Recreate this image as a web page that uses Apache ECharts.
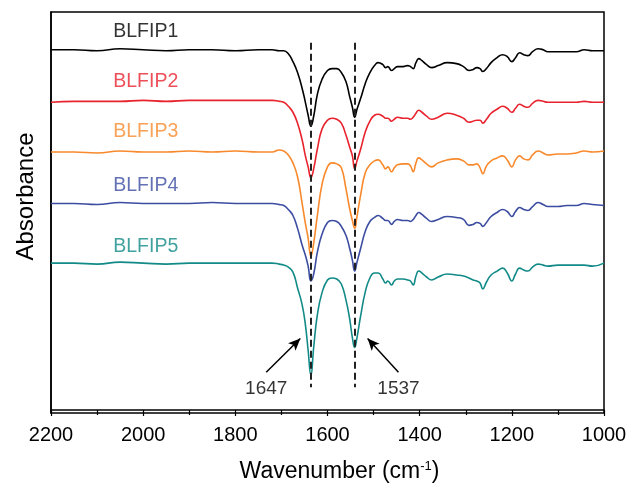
<!DOCTYPE html>
<html>
<head>
<meta charset="utf-8">
<script src="https://cdn.jsdelivr.net/npm/echarts@6/dist/echarts.min.js"></script>
<style>
  html, body { margin: 0; padding: 0; background: #fff; }
  #main { width: 643px; height: 488px; }
</style>
</head>
<body>
<div id="main"></div>
<script>
// wavenumbers (cm-1), shared by all spectra
var wavenumbers = [2200,2150,2100,2050,2000,1950,1900,1850,1800,1750,
  1720,1705,1695,1685,1675,1665,1655,1648,1642,1636,
  1630,1622,1612,1600,1590,1580,1570,1560,1552,1546,
  1541,1536,1528,1518,1508,1498,1490,1480,1474,1469,
  1461,1455,1448,1436,1426,1420,1414,1408,1402,1395,
  1385,1374,1360,1340,1320,1305,1293,1284,1276,1269,
  1263,1255,1245,1232,1220,1210,1200,1192,1183,1174,
  1165,1155,1143,1132,1122,1100,1080,1060,1043,1025,1000];

// absorbance (offset stacked, arbitrary units)
var blfip1 = [3.63,3.63,3.62,3.64,3.63,3.62,3.63,3.63,3.62,3.63,
  3.63,3.62,3.62,3.59,3.51,3.40,3.24,3.10,2.97,2.86,
  2.96,3.18,3.33,3.42,3.44,3.44,3.40,3.31,3.16,3.05,
  2.95,3.03,3.14,3.29,3.40,3.47,3.50,3.48,3.45,3.46,
  3.42,3.44,3.46,3.46,3.47,3.46,3.44,3.50,3.54,3.52,
  3.48,3.45,3.47,3.50,3.49,3.46,3.42,3.43,3.45,3.44,
  3.41,3.44,3.50,3.55,3.58,3.56,3.51,3.55,3.60,3.58,
  3.57,3.61,3.64,3.63,3.61,3.61,3.61,3.61,3.63,3.62,3.62];
var blfip2 = [3.10,3.11,3.11,3.11,3.12,3.11,3.12,3.12,3.12,3.12,
  3.12,3.11,3.10,3.06,3.00,2.89,2.72,2.56,2.45,2.34,
  2.43,2.63,2.83,2.92,2.94,2.93,2.89,2.77,2.65,2.56,
  2.43,2.51,2.63,2.80,2.91,2.97,2.98,2.96,2.94,2.94,
  2.91,2.93,2.95,2.94,2.94,2.93,2.95,2.99,3.02,3.00,
  2.96,2.93,2.95,2.99,2.97,2.94,2.90,2.91,2.92,2.92,
  2.89,2.93,2.99,3.03,3.06,3.04,3.00,3.04,3.08,3.06,
  3.05,3.09,3.12,3.11,3.10,3.10,3.10,3.10,3.11,3.10,3.10];
var blfip3 = [2.60,2.60,2.59,2.61,2.60,2.60,2.61,2.60,2.61,2.60,
  2.60,2.62,2.61,2.57,2.49,2.35,2.08,1.88,1.73,1.55,
  1.68,1.96,2.27,2.45,2.49,2.48,2.44,2.23,2.03,1.91,
  1.83,1.95,2.17,2.39,2.47,2.51,2.52,2.47,2.43,2.45,
  2.40,2.44,2.47,2.48,2.48,2.46,2.40,2.49,2.54,2.52,
  2.48,2.45,2.49,2.52,2.53,2.51,2.47,2.47,2.48,2.44,
  2.38,2.46,2.51,2.54,2.56,2.52,2.45,2.52,2.56,2.53,
  2.52,2.57,2.61,2.59,2.57,2.58,2.58,2.59,2.61,2.60,2.61];
var blfip4 = [2.08,2.08,2.07,2.09,2.08,2.08,2.08,2.09,2.08,2.08,
  2.08,2.07,2.06,2.02,1.96,1.83,1.66,1.56,1.45,1.30,
  1.37,1.59,1.77,1.89,1.91,1.90,1.85,1.76,1.63,1.51,
  1.40,1.49,1.63,1.80,1.90,1.94,1.96,1.93,1.91,1.91,
  1.87,1.90,1.92,1.91,1.91,1.90,1.92,1.96,1.99,1.97,
  1.93,1.90,1.92,1.95,1.94,1.92,1.86,1.87,1.89,1.88,
  1.85,1.89,1.95,1.99,2.02,2.00,1.95,2.00,2.04,2.02,
  2.01,2.05,2.09,2.07,2.05,2.05,2.06,2.06,2.08,2.07,2.06];
var blfip5 = [1.48,1.48,1.47,1.49,1.48,1.47,1.48,1.48,1.48,1.48,
  1.48,1.47,1.46,1.44,1.39,1.23,1.06,0.86,0.60,0.35,
  0.63,0.96,1.18,1.31,1.33,1.32,1.27,1.11,0.92,0.73,
  0.63,0.73,0.95,1.19,1.33,1.38,1.38,1.32,1.28,1.30,
  1.26,1.30,1.32,1.32,1.31,1.30,1.26,1.35,1.40,1.38,
  1.34,1.31,1.34,1.37,1.36,1.35,1.33,1.31,1.30,1.28,
  1.22,1.29,1.36,1.40,1.43,1.38,1.30,1.37,1.43,1.41,
  1.40,1.44,1.47,1.46,1.45,1.46,1.46,1.46,1.46,1.45,1.48];

var names = ['BLFIP1', 'BLFIP2', 'BLFIP3', 'BLFIP4', 'BLFIP5'];
var colors = ['#000000', '#e8232e', '#f8892c', '#3c4da1', '#128a87'];
var spectra = [blfip1, blfip2, blfip3, blfip4, blfip5];
// where the sample names sit (wavenumber, absorbance)
var nameX = [2065, 2065, 2065, 2065, 2065];
var nameY = [3.81, 3.31, 2.80, 2.26, 1.65];

// amide bands: dashed guides, arrows and their labels
var peakLines = [1636, 1541];
var peakLineTop = 3.70, peakLineBottom = 0.23;
var bandLabels = ['1647', '1537'];
var arrowTail = [[1733, 0.38], [1446, 0.38]];
var arrowTip = [[1659, 0.72], [1513, 0.72]];
var bandLabelPos = [[1733, 0.21], [1446, 0.21]];

var myChart = echarts.init(document.getElementById('main'));

var font = 'Arial, "Liberation Sans", sans-serif';
var series = [];
for (var i = 0; i < spectra.length; i++) {
  var pts = [];
  for (var j = 0; j < wavenumbers.length; j++) {
    pts.push([wavenumbers[j], spectra[i][j]]);
  }
  series.push({
    name: names[i],
    type: 'line',
    data: pts,
    smooth: 0.5,
    showSymbol: false,
    lineStyle: { color: colors[i], width: 1.6 },
    z: 3
  });
}

// dashed guides + arrows
var guides = [];
for (var k = 0; k < peakLines.length; k++) {
  guides.push([
    { coord: [peakLines[k], peakLineTop], symbol: 'none',
      lineStyle: { type: [7, 4], color: '#222', width: 2 } },
    { coord: [peakLines[k], peakLineBottom], symbol: 'none' }
  ]);
  guides.push([
    { coord: arrowTail[k], symbol: 'none',
      lineStyle: { type: 'solid', color: '#000', width: 1.5 } },
    { coord: arrowTip[k], symbol: 'arrow', symbolSize: [8, 12] }
  ]);
}
series.push({
  type: 'line',
  data: [],
  markLine: {
    silent: true,
    animation: false,
    label: { show: false },
    data: guides
  },
  z: 2
});

// text labels
var textItems = [];
for (var n = 0; n < names.length; n++) {
  textItems.push({
    value: [nameX[n], nameY[n]],
    label: { formatter: names[n], color: colors[n] }
  });
}
for (var b = 0; b < bandLabels.length; b++) {
  textItems.push({
    value: bandLabelPos[b],
    label: { formatter: bandLabels[b], color: '#000', align: 'center', fontSize: 19 }
  });
}
series.push({
  type: 'scatter',
  data: textItems,
  symbolSize: 1,
  itemStyle: { color: 'rgba(0,0,0,0)' },
  label: {
    show: true,
    position: 'inside',
    align: 'left',
    verticalAlign: 'middle',
    fontFamily: font,
    fontSize: 19.5
  },
  silent: true,
  z: 5
});

option = {
  backgroundColor: '#ffffff',
  animation: false,
  grid: {
    left: 51, right: 39, top: 12, bottom: 72,
    show: true, borderColor: '#000', borderWidth: 1.5
  },
  xAxis: {
    type: 'value',
    min: 1000, max: 2200, interval: 200,
    inverse: true,
    splitLine: { show: false },
    axisLine: { lineStyle: { color: '#000', width: 1.5 } },
    axisTick: { show: true, inside: false, length: 6, lineStyle: { color: '#000', width: 1.2 } },
    minorTick: { show: true, splitNumber: 2, length: 5, lineStyle: { color: '#000', width: 1.2 } },
    axisLabel: {
      color: '#000', fontSize: 20, fontFamily: font, margin: 12,
      formatter: function (v) { return String(v); }
    },
    name: 'Wavenumber (cm{sup|-1})',
    nameLocation: 'middle',
    nameGap: 47,
    nameTextStyle: {
      color: '#000', fontSize: 23, fontFamily: font,
      padding: [0, 0, 0, 24],
      rich: { sup: { fontSize: 13, verticalAlign: 'top', padding: [0, 0, 10, 0], fontFamily: font } }
    }
  },
  yAxis: {
    type: 'value',
    min: -0.03, max: 4.01,
    splitLine: { show: false },
    axisLine: { show: true, lineStyle: { color: '#000', width: 1.5 } },
    axisTick: { show: false },
    axisLabel: { show: false },
    name: 'Absorbance',
    nameLocation: 'middle',
    nameGap: 13,
    nameTextStyle: { color: '#000', fontSize: 24, fontFamily: font, padding: [0, 0, 0, 32] }
  },
  series: series
};
myChart.setOption(option);
</script>
</body>
</html>
